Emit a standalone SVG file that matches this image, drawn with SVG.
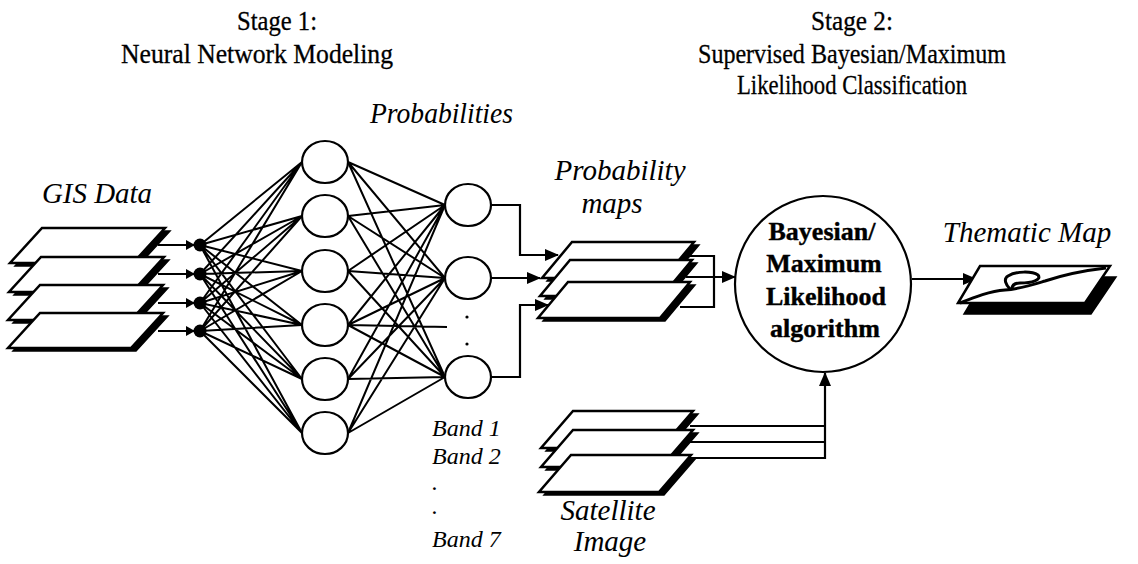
<svg xmlns="http://www.w3.org/2000/svg" width="1138" height="564" viewBox="0 0 1138 564">
  <defs>
    <style>
      .title { font-family: "Liberation Serif", "Times New Roman", serif; font-size: 28px; fill: #000; stroke: #000; stroke-width: 0.3; text-anchor: middle; }
      .label { font-family: "Liberation Serif", "Times New Roman", serif; font-size: 29px; font-style: italic; fill: #000; }
      .band { font-family: "Liberation Serif", "Times New Roman", serif; font-size: 24px; font-style: italic; fill: #000; }
      .algo { font-family: "Liberation Serif", "Times New Roman", serif; font-size: 26px; font-weight: bold; fill: #000; stroke: #000; stroke-width: 0.4; text-anchor: middle; }
      .edge { fill: none; stroke: #000; stroke-width: 2; }
      .wire { fill: none; stroke: #000; stroke-width: 2.2; }
      .node { fill: #fff; stroke: #000; stroke-width: 2.2; }
      .sheet { fill: #fff; stroke: #000; stroke-width: 2.5; stroke-linejoin: miter; }
      .shadow { fill: #000; stroke: #000; stroke-width: 1.5; }
    </style>
    <marker id="arrow" markerUnits="userSpaceOnUse" markerWidth="14" markerHeight="12" refX="13" refY="6" orient="auto">
      <path d="M0,0 L14,6 L0,12 z" fill="#000"/>
    </marker>
    <marker id="arrowSmall" markerUnits="userSpaceOnUse" markerWidth="9" markerHeight="10" refX="8" refY="5" orient="auto">
      <path d="M0,0 L9,5 L0,10 z" fill="#000"/>
    </marker>
    <!-- GIS layer sheet -->
    <g id="gisSheet">
      <polygon class="shadow" points="5,3 128,3 96,38 -27,38"/>
      <polygon class="sheet" points="0,0 123,0 91,35 -32,35"/>
    </g>
    <!-- probability map sheet -->
    <g id="mapSheet">
      <polygon class="shadow" points="5,3 127,3 97,39 -25,39"/>
      <polygon class="sheet" points="0,0 122,0 92,36 -30,36"/>
    </g>
    <!-- satellite band sheet -->
    <g id="bandSheet">
      <polygon class="shadow" points="5,3 125,3 93,40 -27,40"/>
      <polygon class="sheet" points="0,0 120,0 88,37 -32,37"/>
    </g>
  </defs>

  <rect width="1138" height="564" fill="#fff"/>

  <!-- stage headings -->
  <g id="stage-1-title">
    <text class="title" x="277" y="30" textLength="80" lengthAdjust="spacingAndGlyphs">Stage 1:</text>
    <text class="title" x="257" y="63" textLength="272" lengthAdjust="spacingAndGlyphs">Neural Network Modeling</text>
  </g>
  <g id="stage-2-title">
    <text class="title" x="852" y="30" textLength="82" lengthAdjust="spacingAndGlyphs">Stage 2:</text>
    <text class="title" x="852" y="63" textLength="308" lengthAdjust="spacingAndGlyphs">Supervised Bayesian/Maximum</text>
    <text class="title" x="852" y="94" textLength="230" lengthAdjust="spacingAndGlyphs">Likelihood Classification</text>
  </g>

  <!-- connectors -->
  <g id="connectors">
    <!-- GIS layers into input units -->
    <path class="wire" marker-end="url(#arrowSmall)" d="M158,245 H194"/>
    <path class="wire" marker-end="url(#arrowSmall)" d="M158,274 H194"/>
    <path class="wire" marker-end="url(#arrowSmall)" d="M158,303 H194"/>
    <path class="wire" marker-end="url(#arrowSmall)" d="M158,331 H194"/>
    <!-- input to hidden weights -->
    <path class="edge" d="M200,245L302,162 M200,245L302,216 M200,245L302,271 M200,245L302,325 M200,245L302,379 M200,245L302,433
      M200,274L302,162 M200,274L302,216 M200,274L302,271 M200,274L302,325 M200,274L302,379 M200,274L302,433
      M200,303L302,162 M200,303L302,216 M200,303L302,271 M200,303L302,325 M200,303L302,379 M200,303L302,433
      M200,331L302,162 M200,331L302,216 M200,331L302,271 M200,331L302,325 M200,331L302,379 M200,331L302,433"/>
    <!-- hidden to output weights -->
    <path class="edge" d="M348,162L445,205 M348,162L445,278 M348,162L445,377
      M348,216L445,205 M348,216L445,278 M348,216L445,377
      M348,271L445,205 M348,271L445,278 M348,271L445,377
      M348,325L445,205 M348,325L445,278 M348,325L445,377
      M348,379L445,205 M348,379L445,278 M348,379L445,377
      M348,433L445,205 M348,433L445,278 M348,433L445,377
      M348,325L447,327"/>
    <!-- outputs into probability maps -->
    <path class="wire" marker-end="url(#arrow)" d="M491,205 H520 V255 H558"/>
    <path class="wire" marker-end="url(#arrow)" d="M491,278 H540"/>
    <path class="wire" marker-end="url(#arrow)" d="M491,377 H520 V305 H548"/>
    <!-- probability maps into classifier -->
    <path class="wire" d="M686,256 H714 V307 H680"/>
    <path class="wire" marker-end="url(#arrow)" d="M686,277 H735"/>
    <!-- satellite bands into classifier -->
    <path class="wire" d="M690,426 H825"/>
    <path class="wire" d="M690,442 H825"/>
    <path class="wire" marker-end="url(#arrow)" d="M690,458 H825 V373"/>
    <!-- classifier to thematic map -->
    <path class="wire" marker-end="url(#arrow)" d="M912,279 H976"/>
  </g>

  <!-- GIS data layers -->
  <g id="gis-data">
    <text class="label" x="42" y="203" textLength="110" lengthAdjust="spacingAndGlyphs">GIS Data</text>
    <use href="#gisSheet" transform="translate(42,228)"/>
    <use href="#gisSheet" transform="translate(41,257)"/>
    <use href="#gisSheet" transform="translate(40,285)"/>
    <use href="#gisSheet" transform="translate(40,313)"/>
  </g>

  <!-- input units -->
  <g id="input-layer">
    <circle cx="200" cy="245" r="6.5" fill="#000"/>
    <circle cx="200" cy="274" r="6.5" fill="#000"/>
    <circle cx="200" cy="303" r="6.5" fill="#000"/>
    <circle cx="200" cy="331" r="6.5" fill="#000"/>
  </g>

  <!-- hidden units -->
  <g id="hidden-layer">
    <ellipse class="node" cx="325" cy="162" rx="23" ry="21"/>
    <ellipse class="node" cx="325" cy="216" rx="23" ry="21"/>
    <ellipse class="node" cx="325" cy="271" rx="23" ry="21"/>
    <ellipse class="node" cx="325" cy="325" rx="23" ry="21"/>
    <ellipse class="node" cx="325" cy="379" rx="23" ry="21"/>
    <ellipse class="node" cx="325" cy="433" rx="23" ry="21"/>
  </g>

  <!-- output units -->
  <g id="output-layer">
    <text class="label" x="370" y="123" textLength="143" lengthAdjust="spacingAndGlyphs">Probabilities</text>
    <ellipse class="node" cx="468" cy="205" rx="23" ry="21"/>
    <ellipse class="node" cx="468" cy="278" rx="23" ry="21"/>
    <ellipse class="node" cx="468" cy="377" rx="23" ry="21"/>
    <circle cx="467" cy="317" r="1.6" fill="#000"/>
    <circle cx="467" cy="344" r="1.6" fill="#000"/>
  </g>

  <!-- probability maps -->
  <g id="probability-maps">
    <text class="label" x="620" y="180" text-anchor="middle" font-size="28">Probability</text>
    <text class="label" x="612" y="213" text-anchor="middle" font-size="28">maps</text>
    <use href="#mapSheet" transform="translate(572,242)"/>
    <use href="#mapSheet" transform="translate(570,260)"/>
    <use href="#mapSheet" transform="translate(568,282)"/>
  </g>

  <!-- classifier -->
  <g id="bayesian-ml">
    <circle class="node" cx="823" cy="284" r="88" stroke-width="2.5"/>
    <text class="algo" x="822" y="240">Bayesian/</text>
    <text class="algo" x="824" y="272">Maximum</text>
    <text class="algo" x="826" y="305">Likelihood</text>
    <text class="algo" x="825" y="337">algorithm</text>
  </g>

  <!-- thematic map -->
  <g id="thematic-map">
    <text class="label" x="1027" y="242" text-anchor="middle">Thematic Map</text>
    <polygon class="shadow" points="986,277 1116,277 1091,314 964,314"/>
    <polygon class="sheet" points="980,266 1110,266 1085,303 958,303"/>
    <path d="M960,303 C975,297 990,291 1005,290 C1020,289 1032,285 1045,281 C1060,276 1080,271 1106,268" fill="none" stroke="#000" stroke-width="3"/>
    <path d="M1010,289 C1006,285 1003,279 1008,276 C1016,271 1032,271 1038,275 C1042,280 1032,283 1020,283 C1015,283 1012,285 1012,289" fill="none" stroke="#000" stroke-width="3"/>
  </g>

  <!-- satellite image bands -->
  <g id="satellite-image">
    <text class="band" x="432" y="436">Band 1</text>
    <text class="band" x="432" y="464">Band 2</text>
    <text class="band" x="432" y="490">.</text>
    <text class="band" x="432" y="514">.</text>
    <text class="band" x="432" y="547">Band 7</text>
    <use href="#bandSheet" transform="translate(573,411)"/>
    <use href="#bandSheet" transform="translate(573,430)"/>
    <use href="#bandSheet" transform="translate(571,455)"/>
    <text class="label" x="608" y="520" text-anchor="middle">Satellite</text>
    <text class="label" x="610" y="551" text-anchor="middle">Image</text>
  </g>
</svg>
